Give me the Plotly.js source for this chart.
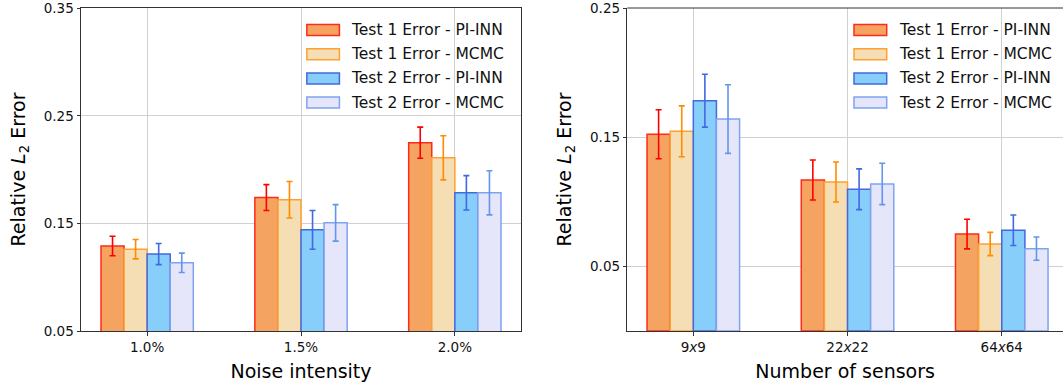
<!DOCTYPE html>
<html>
<head>
<meta charset="utf-8">
<script src="https://cdn.plot.ly/plotly-3.0.1.min.js"></script>
<style>html,body{margin:0;padding:0;background:#fff;}#chart{width:1063px;height:387px;}</style>
</head>
<body>
<div id="chart"></div>
<script>
// ---- data ----
const seriesNames = ['Test 1 Error - PI-INN', 'Test 1 Error - MCMC', 'Test 2 Error - PI-INN', 'Test 2 Error - MCMC'];

const noiseLabels = ['1.0%', '1.5%', '2.0%'];
const noiseT1Pi = [0.129, 0.174, 0.225];
const noiseT1PiErr = [0.009, 0.012, 0.0145];
const noiseT1Mcmc = [0.126, 0.172, 0.211];
const noiseT1McmcErr = [0.009, 0.017, 0.0205];
const noiseT2Pi = [0.1215, 0.144, 0.1784];
const noiseT2PiErr = [0.0098, 0.018, 0.016];
const noiseT2Mcmc = [0.1134, 0.1505, 0.1784];
const noiseT2McmcErr = [0.009, 0.017, 0.0205];

const sensorLabels = ['9<i>x</i>9', '22<i>x</i>22', '64<i>x</i>64'];
const sensT1Pi = [0.1524, 0.117, 0.0751];
const sensT1PiErr = [0.019, 0.0155, 0.0115];
const sensT1Mcmc = [0.1547, 0.1154, 0.0674];
const sensT1McmcErr = [0.0197, 0.0155, 0.009];
const sensT2Pi = [0.1784, 0.1098, 0.078];
const sensT2PiErr = [0.0205, 0.0158, 0.0118];
const sensT2Mcmc = [0.1642, 0.1139, 0.0638];
const sensT2McmcErr = [0.0266, 0.016, 0.009];

const noiseTicks = [0.05, 0.15, 0.25, 0.35];
const sensorTicks = [0.05, 0.15, 0.25];

// ---- styles ----
const fills = ['#F4A460', '#F5DEB3', '#87CEFA', '#E6E6FA'];
const edges = ['#FF2A1A', '#FFA030', '#4169E1', '#7FA3F0'];
const errCols = ['#FF0000', '#FF8C00', '#4169E1', '#6495ED'];
const FONT = 'DejaVu Sans, Verdana, sans-serif';

function mk(xs, ys, errs, i, xa, ya) {
  return {
    type: 'bar', x: xs, y: ys, name: seriesNames[i], xaxis: xa, yaxis: ya, showlegend: false,
    marker: { color: fills[i], line: { color: edges[i], width: 1.5 } },
    error_y: { type: 'data', array: errs, visible: true, color: errCols[i], thickness: 1.6, width: 3 }
  };
}

const data = [
  mk(noiseLabels, noiseT1Pi, noiseT1PiErr, 0, 'x', 'y'),
  mk(noiseLabels, noiseT1Mcmc, noiseT1McmcErr, 1, 'x', 'y'),
  mk(noiseLabels, noiseT2Pi, noiseT2PiErr, 2, 'x', 'y'),
  mk(noiseLabels, noiseT2Mcmc, noiseT2McmcErr, 3, 'x', 'y'),
  mk(sensorLabels, sensT1Pi, sensT1PiErr, 0, 'x2', 'y2'),
  mk(sensorLabels, sensT1Mcmc, sensT1McmcErr, 1, 'x2', 'y2'),
  mk(sensorLabels, sensT2Pi, sensT2PiErr, 2, 'x2', 'y2'),
  mk(sensorLabels, sensT2Mcmc, sensT2McmcErr, 3, 'x2', 'y2')
];

const W = 1063, H = 387, ML = 81, MT = 8, MB = 56;
const PW = W - ML, PH = H - MT - MB;
const leftX0 = 80.7, leftX1 = 521, rightX0 = 627.3, rightX1 = 1063;

const gridCol = '#d0d0d0';
const tickFont = { family: FONT, size: 13.5, color: '#111' };
const titleFont = { family: FONT, size: 19, color: '#000' };

function xAxis(domain, mirror) {
  return {
    domain: domain, type: 'category', range: [-0.43, 2.43],
    showgrid: true, gridcolor: gridCol, gridwidth: 1,
    showline: true, linecolor: '#333', linewidth: 1, mirror: mirror,
    ticks: 'outside', ticklen: 3.5, tickwidth: 1, tickcolor: '#333',
    tickfont: tickFont, zeroline: false, fixedrange: true, ticklabeloverflow: 'allow'
  };
}
function yAxis(range, ticks, anchor, mirror) {
  return {
    domain: [0, 1], range: range, anchor: anchor,
    tickvals: ticks, tickformat: '.2f',
    showgrid: true, gridcolor: gridCol, gridwidth: 1,
    showline: true, linecolor: '#333', linewidth: 1, mirror: mirror,
    ticks: 'outside', ticklen: 3.5, tickwidth: 1, tickcolor: '#333',
    tickfont: tickFont, zeroline: false, fixedrange: true, ticklabeloverflow: 'allow',
    title: { text: 'Relative <i>L</i><sub>2</sub> Error', font: titleFont, standoff: 13 }
  };
}

const xa1 = xAxis([(leftX0 - ML) / PW, (leftX1 - ML) / PW], true);
xa1.title = { text: 'Noise intensity', font: titleFont, standoff: 10 };
xa1.anchor = 'y';
const xa2 = xAxis([(rightX0 - ML) / PW, 1], false);
xa2.range = [-0.428, 2.397];
xa2.title = { text: 'Number of sensors', font: titleFont, standoff: 10 };
xa2.anchor = 'y2';

const shapes = [
  { type: 'line', xref: 'x2 domain', yref: 'y2 domain', x0: 0, x1: 1, y0: 1, y1: 1,
    line: { color: '#333', width: 1 } }
];
const annotations = [];

// legends (drawn per subplot, transparent background like the original)
const rowPx = [30, 54.2, 78.4, 102.6];
function addLegend(xref, yref, axL, axR, patchL, patchR, textL) {
  const span = axR - axL;
  for (let i = 0; i < seriesNames.length; i++) {
    const yc = (331 - rowPx[i]) / 323;
    const hh = 5.5 / 323;
    shapes.push({
      type: 'rect', xref: xref, yref: yref,
      x0: (patchL - axL) / span, x1: (patchR - axL) / span, y0: yc - hh, y1: yc + hh,
      fillcolor: fills[i], line: { color: edges[i], width: 1.5 }
    });
    annotations.push({
      xref: xref, yref: yref, x: (textL - axL) / span, y: yc,
      xanchor: 'left', yanchor: 'middle', showarrow: false,
      text: seriesNames[i], font: { family: FONT, size: 15.5, color: '#111' }, borderpad: 0
    });
  }
}
addLegend('x domain', 'y domain', leftX0, leftX1, 306.7, 339.3, 349.5);
addLegend('x2 domain', 'y2 domain', rightX0, rightX1, 854, 886.7, 897.8);

const layout = {
  width: W, height: H,
  margin: { l: ML, r: 0, t: MT, b: MB, pad: 0 },
  paper_bgcolor: '#fff', plot_bgcolor: '#fff',
  barmode: 'group', bargap: 0.4, bargroupgap: 0,
  showlegend: false,
  font: { family: FONT, color: '#111' },
  xaxis: xa1,
  yaxis: yAxis([0.05, 0.3502], noiseTicks, 'x', true),
  xaxis2: xa2,
  yaxis2: yAxis([0, 0.2502], sensorTicks, 'x2', false),
  shapes: shapes,
  annotations: annotations
};

Plotly.newPlot('chart', data, layout, { staticPlot: true, displayModeBar: false });
</script>
</body>
</html>
